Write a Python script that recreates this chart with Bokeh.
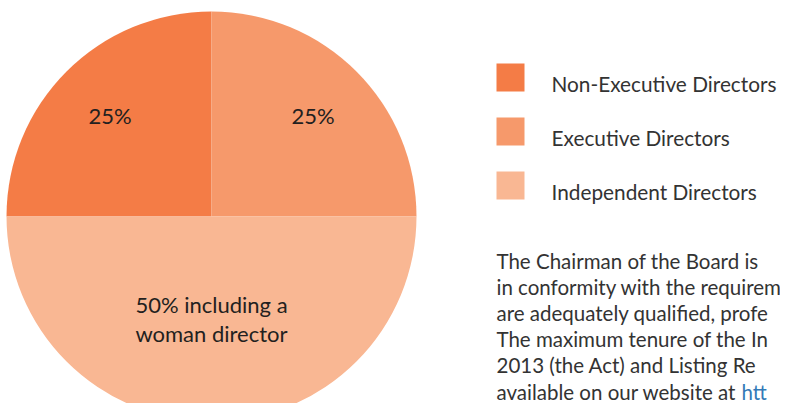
import numpy as np
from bokeh.plotting import figure
from bokeh.models import ColumnDataSource, Range1d
from bokeh.core.properties import value
from bokeh.embed import file_html
from bokeh.resources import INLINE

# ---- data ----
categories = ["Non-Executive Directors", "Executive Directors", "Independent Directors"]
shares = [25, 25, 50]
slice_labels = ["25%", "25%", "50% including a\nwoman director"]
colors = ["#F47C46", "#F6996B", "#F9B793"]
pie_sequence = [1, 2, 0]  # clockwise from 12 o'clock

# paragraph as visible in the reference (cut at the right edge)
paragraph = [
    "The Chairman of the Board is",
    "in conformity with the requirem",
    "are adequately qualified, profe",
    "The maximum tenure of the In",
    "2013 (the Act) and Listing Re",
]
last_line = "available on our website at"
link_text = "htt"

# ---- layout ----
W, H = 780, 403
FONT = "Lato"
BASE_FIX = 8  # alphabetic baseline correction (px)
cx, cy, R = 211, H - 216, 205

total = float(sum(shares))
start = [0.0] * len(shares)
end = [0.0] * len(shares)
cum = 0.0
for i in pie_sequence:
    start[i] = np.pi / 2 - 2 * np.pi * cum / total
    cum += shares[i]
    end[i] = np.pi / 2 - 2 * np.pi * cum / total
mid = [(s + e) / 2 for s, e in zip(start, end)]
frac = [0.70, 0.70, 0.50]
lx = [cx + f * R * np.cos(m) for f, m in zip(frac, mid)]
ly = [cy + f * R * np.sin(m) for f, m in zip(frac, mid)]

src = ColumnDataSource(dict(cat=categories, share=shares, start=start, end=end,
                            color=colors, lab=slice_labels, lx=lx, ly=ly))

p = figure(width=W, height=H, output_backend="svg", toolbar_location=None,
           x_range=Range1d(0, W), y_range=Range1d(0, H), min_border=0)
p.axis.visible = False
p.grid.visible = False
p.outline_line_color = None
p.background_fill_color = "white"
p.border_fill_color = "white"

p.wedge(x=cx, y=cy, radius=R, radius_units="screen", start_angle="start", end_angle="end",
        direction="clock", fill_color="color", line_color=None, source=src)
p.text(x="lx", y="ly", text="lab", source=src, text_align="center", text_baseline="middle",
       text_font=value(FONT), text_font_size="22px", text_color="#231F20", text_line_height=1.1)

# legend
leg_x, leg_top, leg_step = 510, H - 77, 54
leg_y = [leg_top - i * leg_step for i in range(len(categories))]
lsrc = ColumnDataSource(dict(cat=categories, color=colors, y=leg_y,
                             ty=[v - 14 + BASE_FIX for v in leg_y]))
p.rect(x=leg_x, y="y", width=28, height=28, width_units="screen", height_units="screen",
       fill_color="color", line_color=None, source=lsrc)
p.text(x=551, y="ty", text="cat", source=lsrc, text_align="left", text_baseline="alphabetic",
       text_font=value(FONT), text_font_size="20.8px", text_color="#333333")

# paragraph (slightly compressed so that its last line stays inside the page)
para_x, para_top, lh = 496, H - 268 + BASE_FIX, 26.2
py_ = [para_top - i * lh for i in range(len(paragraph))]
psrc = ColumnDataSource(dict(t=paragraph, y=py_))
p.text(x=para_x, y="y", text="t", source=psrc, text_align="left", text_baseline="alphabetic",
       text_font=value(FONT), text_font_size="20.5px", text_color="#333333")
ly6 = para_top - len(paragraph) * lh
p.text(x=[para_x], y=[ly6], text=[last_line], text_align="left", text_baseline="alphabetic",
       text_font=value(FONT), text_font_size="20.5px", text_color="#333333")
p.text(x=[741], y=[ly6], text=[link_text], text_align="left", text_baseline="alphabetic",
       text_font=value(FONT), text_font_size="20.5px", text_color="#337AB7")

open("out.html", "w").write(file_html(p, INLINE))
